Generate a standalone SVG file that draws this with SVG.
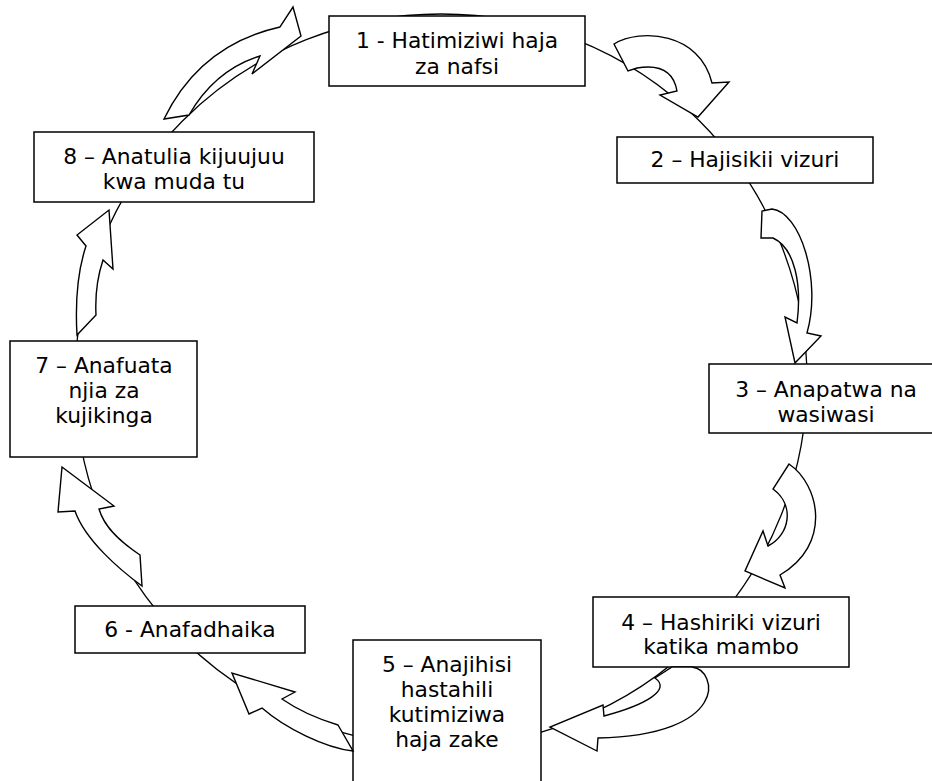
<svg xmlns="http://www.w3.org/2000/svg" width="932" height="781" viewBox="0 0 932 781">
<style>
.bg{fill:#fff}
.ring{fill:none;stroke:#000;stroke-width:1.3}
.box{fill:#fff;stroke:#000;stroke-width:1.5}
.arr{fill:#fff;stroke:#000;stroke-width:1.4;stroke-linejoin:miter}
text{font-family:"DejaVu Sans","Verdana",sans-serif;font-size:21.8px;fill:#000;text-anchor:middle}
</style>
<rect class="bg" x="0" y="0" width="932" height="781"/>
<g id="ring"><circle class="ring" cx="441" cy="380" r="366"/></g>
<g id="node1"><rect class="box" x="329" y="16" width="256" height="70"/><text x="457" y="48">1 - Hatimiziwi haja</text><text x="457" y="74">za nafsi</text></g>
<g id="node2"><rect class="box" x="617" y="137" width="256" height="46"/><text x="745" y="167">2 – Hajisikii vizuri</text></g>
<g id="node3"><rect class="box" x="709" y="364" width="234" height="69"/><text x="826" y="397">3 – Anapatwa na</text><text x="826" y="422">wasiwasi</text></g>
<g id="node4"><rect class="box" x="593" y="597" width="256" height="70"/><text x="721" y="630">4 – Hashiriki vizuri</text><text x="721" y="654">katika mambo</text></g>
<g id="node5"><rect class="box" x="353" y="640" width="188" height="150"/><text x="447" y="672">5 – Anajihisi</text><text x="447" y="697">hastahili</text><text x="447" y="722">kutimiziwa</text><text x="447" y="747">haja zake</text></g>
<g id="node6"><rect class="box" x="75" y="606" width="230" height="47"/><text x="190" y="637">6 - Anafadhaika</text></g>
<g id="node7"><rect class="box" x="10" y="341" width="187" height="116"/><text x="104" y="373">7 – Anafuata</text><text x="104" y="398">njia za</text><text x="104" y="423">kujikinga</text></g>
<g id="node8"><rect class="box" x="34" y="132" width="280" height="70"/><text x="174" y="164">8 – Anatulia kijuujuu</text><text x="174" y="189">kwa muda tu</text></g>
<g id="connectors">
<path class="arr" d="M164,119 Q200,45 280,27 L293,7 L301,36 L252,74 L260,56 Q215,70 189,115 Z"/>
<path class="arr" d="M628,71 L614,44 C640,28 700,32 712,83 L729,82 L698,117 L660,95 L677,91 Q672,62 637,68 Z"/>
<path class="arr" d="M761,238 L762,211 L772,209 C800,212 822,280 807,333 L821,336 L795,363 L785,317 L797,323 C802,285 795,248 773,238 Z"/>
<path class="arr" d="M789,464 C820,485 832,545 780,575 L785,588 L745,571 L763,531 L768,546 C790,535 795,505 773,489 Z"/>
<path class="arr" d="M692,667 C718,670 730,735 598,738 L597,751 L550,727 L603,705 L604,716 C645,705 672,690 655,678 L672,667 Z"/>
<path class="arr" d="M353,751 C325,748 285,728 262,708 L249,714 L232,673 L295,692 L282,699 Q305,715 338,725 Z"/>
<path class="arr" d="M142,586 C120,570 85,540 75,511 L58,512 L62,467 L114,506 L99,509 C105,530 125,545 140,555 Z"/>
<path class="arr" d="M77,335 C75,300 78,270 86,246 L77,235 L109,210 L113,269 L103,260 C98,275 95,295 96,315 Z"/>
</g>
</svg>
